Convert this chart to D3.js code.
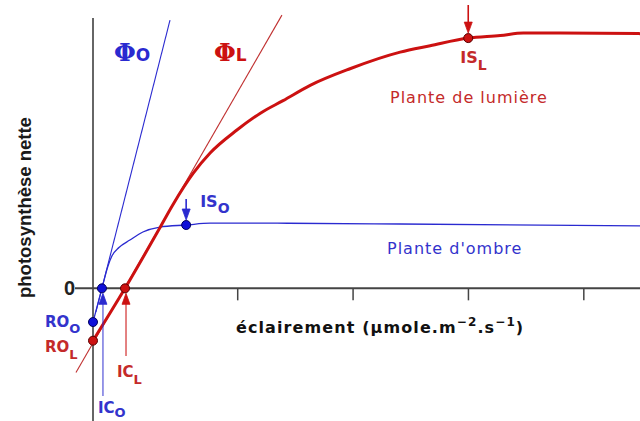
<!DOCTYPE html>
<html>
<head>
<meta charset="utf-8">
<script src="https://cdn.jsdelivr.net/npm/d3@7"></script>
<style>
  body { margin: 0; background: #fff; }
</style>
</head>
<body>
<div id="chart"></div>
<script>
"use strict";

// light intensity (µmol.m-2.s-1) -> net photosynthesis
var lightSun   = [0, 111, 232, 277, 347, 406, 499, 579, 659, 753, 891, 1065, 1169, 1301, 1412, 1492, 1620, 1897];
var photoSun   = [-4.1, 0, 4.75, 6.55, 9.0, 10.6, 12.4, 13.7, 14.7, 15.9, 17.2, 18.5, 19.0, 19.6, 19.8, 20.0, 20.0, 19.95];
var lightShade = [0, 31, 52, 66, 90, 128, 173, 232, 323, 406, 638, 1065, 1897];
var photoShade = [-2.64, 0, 1.75, 2.55, 3.2, 3.78, 4.41, 4.80, 4.96, 5.1, 5.1, 5.04, 4.9];

// initial slopes (quantum yield), two ends of each line
var tanSunX   = [-59, 655],  tanSunY   = [-6.6, 21.4];
var tanShadeX = [10, 267],   tanShadeY = [-1.85, 21.0];

// x ticks
var tickLight = [500, 900, 1300, 1700];

// notable points : respiration (RO), compensation (IC), saturation (IS)
var keyNames = ["RO", "RO", "IC", "IC", "IS", "IS"];
var keySub   = ["O", "L", "O", "L", "O", "L"];
var keyX     = [0, 0, 31, 111, 323, 1301];
var keyY     = [-2.64, -4.1, 0, 0, 4.96, 19.6];

var W = 640, H = 421;
var red = "#cc1111", blue = "#2a2ad0";
var redTxt = "#c42a2a", blueTxt = "#3333cc";

var x = d3.scaleLinear().domain([0, 1900]).range([93, 641]);
var y = d3.scaleLinear().domain([-10, 20]).range([416, 33]);

var svg = d3.select("#chart").append("svg")
    .attr("width", W)
    .attr("height", H)
    .style("font-family", "'DejaVu Sans', sans-serif");

// axes
svg.append("line")
    .attr("x1", x(0)).attr("x2", x(0))
    .attr("y1", 18).attr("y2", H)
    .attr("stroke", "#666").attr("stroke-width", 2);

svg.append("line")
    .attr("x1", x(0) - 18).attr("x2", W)
    .attr("y1", y(0)).attr("y2", y(0))
    .attr("stroke", "#444").attr("stroke-width", 2);

var xAxis = d3.axisBottom(x).tickValues(tickLight).tickSize(12).tickFormat("");
var gx = svg.append("g")
    .attr("transform", "translate(0," + y(0) + ")")
    .call(xAxis);
gx.select(".domain").remove();
gx.selectAll(".tick line").attr("stroke", "#444").attr("stroke-width", 1.5);

svg.append("text")
    .attr("x", x(0) - 29).attr("y", y(0) + 7)
    .attr("font-family", "'Liberation Sans', Arial, sans-serif")
    .attr("font-weight", "bold")
    .attr("font-size", 20)
    .attr("fill", "#222")
    .text("0");

// axis titles
svg.append("text")
    .attr("transform", "translate(31,298) rotate(-90)")
    .attr("font-family", "'Liberation Sans', Arial, sans-serif")
    .attr("font-weight", "bold")
    .attr("font-size", 18.5)
    .attr("fill", "#1a1a1a")
    .text("photosynthèse nette");

var xt = svg.append("text")
    .attr("x", 236).attr("y", 333)
    .attr("font-weight", "bold")
    .attr("font-size", 16)
    .attr("letter-spacing", 1.1)
    .attr("fill", "#111");
xt.append("tspan").text("éclairement (µmole.m");
xt.append("tspan").attr("dy", -7).attr("font-size", 12).text("−2");
xt.append("tspan").attr("dy", 7).text(".s");
xt.append("tspan").attr("dy", -7).attr("font-size", 12).text("−1");
xt.append("tspan").attr("dy", 7).text(")");

// tangent lines
function tangent(xs, ys, col) {
  svg.append("line")
      .attr("x1", x(xs[0])).attr("y1", y(ys[0]))
      .attr("x2", x(xs[1])).attr("y2", y(ys[1]))
      .attr("stroke", col).attr("stroke-width", 1.1);
}
tangent(tanShadeX, tanShadeY, blue);
tangent(tanSunX, tanSunY, "#c03030");

// response curves
var line = d3.line()
    .x(d => x(d[0]))
    .y(d => y(d[1]))
    .curve(d3.curveMonotoneX);

svg.append("path")
    .datum(d3.zip(lightShade, photoShade))
    .attr("d", line)
    .attr("fill", "none")
    .attr("stroke", blue)
    .attr("stroke-width", 1.3);

svg.append("path")
    .datum(d3.zip(lightSun, photoSun))
    .attr("d", line)
    .attr("fill", "none")
    .attr("stroke", red)
    .attr("stroke-width", 3);

// arrows (vertical) : tip at yTip, tail at yTail
function arrow(px, yTip, yTail, col, op) {
  var dir = yTail > yTip ? 1 : -1;
  svg.append("line")
      .attr("x1", px).attr("x2", px)
      .attr("y1", yTail).attr("y2", yTip + dir * 6)
      .attr("stroke", col).attr("stroke-width", 1.6)
      .attr("opacity", op);
  svg.append("path")
      .attr("d", "M" + px + "," + yTip +
                 "L" + (px - 4) + "," + (yTip + dir * 11) +
                 "L" + (px + 4) + "," + (yTip + dir * 11) + "Z")
      .attr("fill", col).attr("stroke", col).attr("stroke-width", 0.8);
}

// keypoints: index helper
function kp(i) { return [x(keyX[i]), y(keyY[i])]; }

arrow(kp(5)[0], kp(5)[1] - 5, 5, red, 1);              // IS_L
arrow(kp(4)[0], kp(4)[1] - 5, kp(4)[1] - 26, blue, 1); // IS_O
arrow(kp(2)[0] + 1, kp(2)[1] + 5, 396, blue, 0.6);     // IC_O
arrow(kp(3)[0] + 1, kp(3)[1] + 5, 356, red, 0.65);     // IC_L

// dots
svg.selectAll("circle.key")
  .data(d3.range(keyX.length))
  .join("circle")
    .attr("class", "key")
    .attr("cx", i => x(keyX[i]))
    .attr("cy", i => y(keyY[i]))
    .attr("r", 4.5)
    .attr("fill", i => keySub[i] === "L" ? red : "#1010d8")
    .attr("stroke", i => keySub[i] === "L" ? "#5a0000" : "#000060")
    .attr("stroke-width", 1);

// point labels, offsets from each point
var labOff = [[-48, 5], [-48, 11], [-4, 125], [-8, 89], [14, -18], [-8, 25]];
var labSub = [6, 7, 4, 7, 6, 7];
var labSize = [15, 15, 15, 15, 16, 16];
d3.range(keyX.length).forEach(function(i) {
  var t = svg.append("text")
      .attr("x", kp(i)[0] + labOff[i][0])
      .attr("y", kp(i)[1] + labOff[i][1])
      .attr("font-weight", "bold")
      .attr("font-size", labSize[i])
      .attr("fill", keySub[i] === "L" ? redTxt : blueTxt)
      .text(keyNames[i]);
  t.append("tspan")
      .attr("dy", labSub[i])
      .attr("font-size", labSize[i] - 2)
      .text(keySub[i]);
});

// Φ labels
function phi(px, py, sub, col) {
  var t = svg.append("text")
      .attr("x", px).attr("y", py)
      .attr("fill", col)
      .attr("font-weight", "bold");
  t.append("tspan")
      .attr("font-family", "'DejaVu Serif', serif")
      .attr("font-size", 25)
      .text("Φ");
  t.append("tspan")
      .attr("font-family", "'DejaVu Sans', sans-serif")
      .attr("font-size", 17)
      .text(sub);
}
phi(x(tanShadeX[1]) - 56, y(tanShadeY[1]) + 41, "O", blue);
phi(x(tanSunX[1]) - 68, y(tanSunY[1]) + 46, "L", red);

// plant names
svg.append("text")
    .attr("x", 390).attr("y", 103)
    .attr("font-size", 16)
    .attr("letter-spacing", 1)
    .attr("fill", redTxt)
    .text("Plante de lumière");

svg.append("text")
    .attr("x", 387).attr("y", 254)
    .attr("font-size", 16)
    .attr("letter-spacing", 1)
    .attr("fill", blueTxt)
    .text("Plante d'ombre");
</script>
</body>
</html>
